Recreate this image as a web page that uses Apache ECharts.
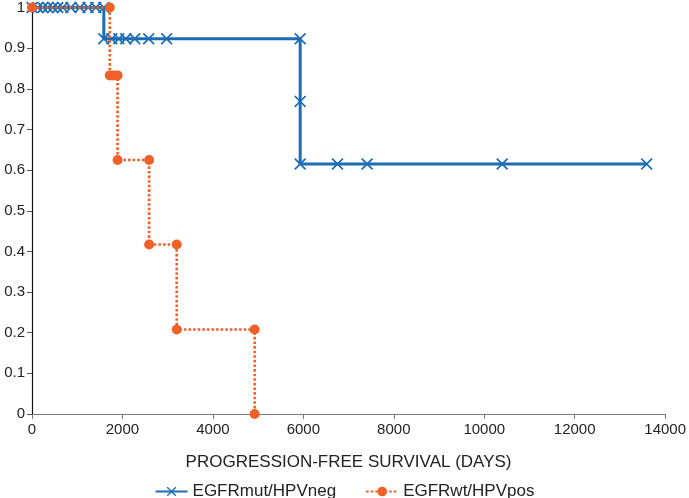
<!DOCTYPE html>
<html>
<head>
<meta charset="utf-8">
<script src="https://cdn.jsdelivr.net/npm/echarts@6/dist/echarts.min.js"></script>
<style>
html,body{margin:0;padding:0;background:#fff;}
#chart{width:689px;height:498px;}
</style>
</head>
<body>
<div id="chart"></div>
<script>
// Series names
var seriesNames = ['EGFRmut/HPVneg', 'EGFRwt/HPVpos'];
// EGFRmut/HPVneg step points (days, survival)
var blueDays = [0,130,240,350,460,570,680,860,1060,1240,1410,1588,
                1588,1764,1919,2073,2272,2580,2977,5930,
                5930,
                5930,6755,7411,10397,13592];
var blueSurv = [1,1,1,1,1,1,1,1,1,1,1,1,
                0.923,0.923,0.923,0.923,0.923,0.923,0.923,0.923,
                0.769,
                0.615,0.615,0.615,0.615,0.615];
// EGFRwt/HPVpos step points (days, survival)
var orangeDays = [0,1720,1720,1800,1892,1892,2590,2590,3200,3200,4923,4923];
var orangeSurv = [1,1,0.833,0.833,0.833,0.625,0.625,0.417,0.417,0.208,0.208,0];
// Axis settings
var xTicks = {min:0, max:14000, interval:2000};
var yTicks = {min:0, max:1, interval:0.1};
var xTitle = 'PROGRESSION-FREE SURVIVAL (DAYS)';

function zip(a,b){ return a.map(function(v,i){ return [v,b[i]]; }); }

var blue = '#1b6db5';
var orange = '#f0612a';
var font = 'Liberation Sans, Arial, Helvetica, sans-serif';
var xPath = 'path://M2,0 L10,8 L18,0 L20,2 L12,10 L20,18 L18,20 L10,12 L2,20 L0,18 L8,10 L0,2 Z';

var chart = echarts.init(document.getElementById('chart'));
chart.setOption({
  animation:false,
  backgroundColor:'#fff',
  textStyle:{fontFamily:font},
  grid:{left:32, right:22, top:6, bottom:84, containLabel:false},
  legend:{
    data:seriesNames,
    top:478, left:'center',
    itemWidth:32, itemHeight:12, itemGap:29,
    textStyle:{fontSize:17, color:'#222', fontFamily:font}
  },
  xAxis:{
    type:'value', min:xTicks.min, max:xTicks.max, interval:xTicks.interval,
    name:xTitle, nameLocation:'middle', nameGap:40,
    nameTextStyle:{fontSize:17, color:'#222', fontFamily:font},
    axisLine:{show:true, onZero:false, lineStyle:{color:'#7a7a7a', width:1.2}},
    axisTick:{show:true, length:5, lineStyle:{color:'#7a7a7a'}},
    axisLabel:{fontSize:15, color:'#222', margin:8, fontFamily:font,
               formatter:function(v){ return String(v); }},
    splitLine:{show:false}
  },
  yAxis:{
    type:'value', min:yTicks.min, max:yTicks.max, interval:yTicks.interval,
    axisLine:{show:true, lineStyle:{color:'#111', width:1.2}},
    axisTick:{show:true, length:5, lineStyle:{color:'#555'}},
    axisLabel:{fontSize:15, color:'#222', margin:7, fontFamily:font},
    splitLine:{show:false}
  },
  series:[
    {
      name:seriesNames[0], type:'line', data:zip(blueDays, blueSurv),
      showSymbol:true, symbol:xPath, symbolSize:12,
      lineStyle:{color:blue, width:3},
      itemStyle:{color:blue},
      z:2
    },
    {
      name:seriesNames[1], type:'line', data:zip(orangeDays, orangeSurv),
      showSymbol:true, symbol:'circle', symbolSize:10,
      lineStyle:{color:orange, width:2.6, type:[2.6,2]},
      itemStyle:{color:orange},
      z:3
    }
  ]
});
</script>
</body>
</html>
